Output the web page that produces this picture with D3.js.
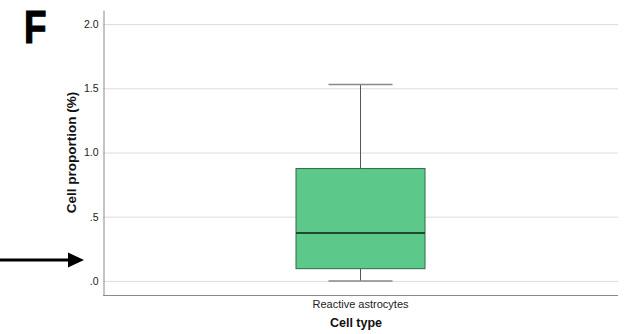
<!DOCTYPE html>
<html>
<head>
<meta charset="utf-8">
<script src="https://cdn.jsdelivr.net/npm/d3@7"></script>
<style>
  html, body { margin: 0; padding: 0; background: #fff; }
  svg { display: block; }
</style>
</head>
<body>
<svg id="chart" width="627" height="334"></svg>
<script>
// Box plot summary for one cell type
const categories = ["Reactive astrocytes"];
const whiskerLow = [0.0];
const quartile1 = [0.095];
const medians = [0.372];
const quartile3 = [0.875];
const whiskerHigh = [1.53];
const yTicks = [0, 0.5, 1.0, 1.5, 2.0];
const yTickLabels = [".0", ".5", "1.0", "1.5", "2.0"];

const svg = d3.select("#chart");
const font = "'Liberation Sans', Arial, sans-serif";

const x = d3.scaleBand().domain(categories).range([103, 618]).padding(0.75);
const y = d3.scaleLinear().domain([-0.11, 2.11]).range([295, 10]);

// horizontal grid
svg.append("g").selectAll("line").data(yTicks).join("line")
  .attr("x1", 103).attr("x2", 618)
  .attr("y1", d => y(d) + 0.5).attr("y2", d => y(d) + 0.5)
  .attr("stroke", "#dcdcdc").attr("stroke-width", 1);

// y axis
const yAxis = d3.axisLeft(y).tickValues(yTicks)
  .tickFormat((d, i) => yTickLabels[i]).tickSize(0).tickPadding(5);
const gy = svg.append("g").attr("transform", "translate(103.5,0)").call(yAxis);
gy.select(".domain").attr("stroke", "#8a8a8a");
gy.selectAll("text").attr("font-family", font).attr("font-size", 10.5).attr("fill", "#222");

// x axis
const xAxis = d3.axisBottom(x).tickSize(0).tickPadding(5);
const gx = svg.append("g").attr("transform", "translate(0,295.5)").call(xAxis);
gx.select(".domain").attr("stroke", "#8a8a8a").attr("d", "M103,0H618");
gx.selectAll("text").attr("font-family", font).attr("font-size", 11).attr("fill", "#222");

// boxes
const groups = svg.append("g").selectAll("g").data(categories).join("g");
groups.each(function(c, i) {
  const g = d3.select(this);
  const cx = x(c) + x.bandwidth() / 2;
  const bw = 129;
  const capW = 64;
  g.append("line").attr("x1", cx).attr("x2", cx)
    .attr("y1", y(whiskerHigh[i])).attr("y2", y(quartile3[i]))
    .attr("stroke", "#555").attr("stroke-width", 1);
  g.append("line").attr("x1", cx).attr("x2", cx)
    .attr("y1", y(quartile1[i])).attr("y2", y(whiskerLow[i]))
    .attr("stroke", "#555").attr("stroke-width", 1);
  g.append("line").attr("x1", cx - capW / 2).attr("x2", cx + capW / 2)
    .attr("y1", y(whiskerHigh[i])).attr("y2", y(whiskerHigh[i]))
    .attr("stroke", "#888").attr("stroke-width", 1.5);
  g.append("line").attr("x1", cx - capW / 2).attr("x2", cx + capW / 2)
    .attr("y1", y(whiskerLow[i])).attr("y2", y(whiskerLow[i]))
    .attr("stroke", "#888").attr("stroke-width", 1.5);
  g.append("rect")
    .attr("x", cx - bw / 2).attr("width", bw)
    .attr("y", y(quartile3[i])).attr("height", y(quartile1[i]) - y(quartile3[i]))
    .attr("fill", "#5cc98a").attr("stroke", "#2f6b47").attr("stroke-width", 1);
  g.append("line").attr("x1", cx - bw / 2).attr("x2", cx + bw / 2)
    .attr("y1", y(medians[i])).attr("y2", y(medians[i]))
    .attr("stroke", "#1f4a31").attr("stroke-width", 2);
});

// axis titles
svg.append("text").attr("x", 356).attr("y", 327)
  .attr("text-anchor", "middle").attr("font-family", font)
  .attr("font-size", 12.5).attr("font-weight", "bold").attr("fill", "#111")
  .text("Cell type");
svg.append("text")
  .attr("transform", "translate(76,152.5) rotate(-90)")
  .attr("text-anchor", "middle").attr("font-family", font)
  .attr("font-size", 13.5).attr("font-weight", "bold").attr("fill", "#111")
  .text("Cell proportion (%)");

// panel letter
svg.append("text").attr("transform", "translate(24,43) scale(0.8,1)")
  .attr("font-family", font).attr("font-size", 46).attr("font-weight", "bold")
  .attr("fill", "#000").attr("stroke", "#000").attr("stroke-width", 1.2)
  .text("F");

// pointer arrow
svg.append("line").attr("x1", 0).attr("x2", 70).attr("y1", 260).attr("y2", 260)
  .attr("stroke", "#000").attr("stroke-width", 3);
svg.append("path").attr("d", "M68,252.5 L84,260 L68,267.5 Z").attr("fill", "#000");
</script>
</body>
</html>
